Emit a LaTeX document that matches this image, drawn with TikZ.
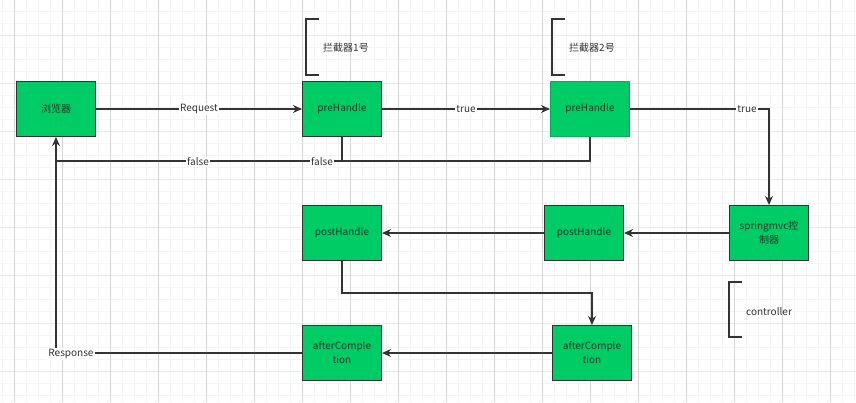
\documentclass[tikz,border=0pt]{standalone}
\usepackage{fontspec}
\setmainfont{Noto Sans CJK SC}
\usepackage{tikz}
\usetikzlibrary{arrows.meta, positioning}
\definecolor{verde}{RGB}{0, 204, 102}
\definecolor{verdeosc}{RGB}{0, 175, 90}
\definecolor{borde}{RGB}{51, 51, 51}
\definecolor{texto}{RGB}{25, 60, 40}
\definecolor{rejilla}{RGB}{244, 244, 244}
\definecolor{rejillaH}{RGB}{234, 234, 234}
\definecolor{rejillaV}{RGB}{214, 214, 214}
\tikzset{
    caja/.style={draw=borde, fill=verde, text=texto, line width=1.1pt, minimum width=79pt, minimum height=55pt, inner sep=2pt, align=center, font=\fontsize{10}{14}\selectfont},
    etiq/.style={fill=white, text=borde, inner sep=1pt, font=\fontsize{10}{11}\selectfont},
    nota/.style={text=borde, inner sep=1pt, font=\fontsize{10}{11}\selectfont},
    conn/.style={-{Stealth[length=9pt,width=8pt]}, borde, line width=1.1pt},
    linea/.style={-, borde, line width=1.1pt},
    corch/.style={borde, line width=1.1pt},
}
\begin{document}
\begin{tikzpicture}[x=1pt, y=-1pt]
        \useasboundingbox (0,0) rectangle (856,402);
        \fill[white] (0,0) rectangle (856,402);
        % grid
        \foreach \i in {0,...,72} \draw[rejilla, line width=0.5pt] ({2+12*\i},0) -- ({2+12*\i},402);
        \foreach \i in {0,...,34} \draw[rejilla, line width=0.5pt] (0,{11+12*\i}) -- (856,{11+12*\i});
        \foreach \i in {0,...,8} \draw[rejillaH, line width=0.6pt] (0,{35+48*\i}) -- (856,{35+48*\i});
        \foreach \i in {0,...,17} \draw[rejillaV, line width=0.7pt] ({14+48*\i},0) -- ({14+48*\i},402);

        \node [caja] (nav) at (56,109) {浏览器};
        \node [caja] (pre1) at (342,109) {preHandle};
        \node [caja, draw=verdeosc] (pre2) at (590,109) {preHandle};
        \node [caja] (ctrl) at (769,233) {springmvc控\\制器};
        \node [caja] (post2) at (584,233) {postHandle};
        \node [caja] (post1) at (342,233) {postHandle};
        \node [caja] (after2) at (592,353) {afterComple\\tion};
        \node [caja] (after1) at (342,353) {afterComple\\tion};

        % brackets
        \draw[corch] (319,19) -- (306,19) -- (306,75) -- (319,75);
        \node[nota] (int1) at (346,48) {拦截器1号};
        \draw[corch] (565,19) -- (552,19) -- (552,75) -- (565,75);
        \node[nota] (int2) at (592,48) {拦截器2号};
        \draw[corch] (742,282) -- (729,282) -- (729,337) -- (742,337);
        \node[nota] (ctl) at (769,312) {controller};

        \coordinate (f1) at (342,161);
        \coordinate (f2) at (590,161);
        \coordinate (fn) at (56,161);
        \coordinate (t2) at (769,109);
        \coordinate (p1) at (342,293);
        \coordinate (p2) at (592,293);
        \coordinate (rs) at (56,353);

        \draw[conn] (nav) -- node[etiq] {Request} (pre1);
        \draw[conn] (pre1) -- node[etiq] {true} (pre2);
        \draw[conn] (pre2) -- (t2) -- (ctrl);
        \node[etiq] (tl) at (747,109) {true};

        \draw[linea] (pre2.south) -- (f2) -- (fn);
        \draw[conn] (pre1.south) -- (f1) -- (fn) -- (nav.south);
        \node[etiq] (fl1) at (198,162) {false};
        \node[etiq] (fl2) at (322,162) {false};

        \draw[conn] (ctrl) -- (post2);
        \draw[conn] (post2) -- (post1);
        \draw[conn] (post1.south) -- (p1) -- (p2) -- (after2.north);
        \draw[conn] (after2) -- (after1);
        \draw[linea] (after1.west) -- (rs) -- (fn);
        \node[etiq, fill=white] (resp) at (71,354) {Response};
\end{tikzpicture}
\end{document}
